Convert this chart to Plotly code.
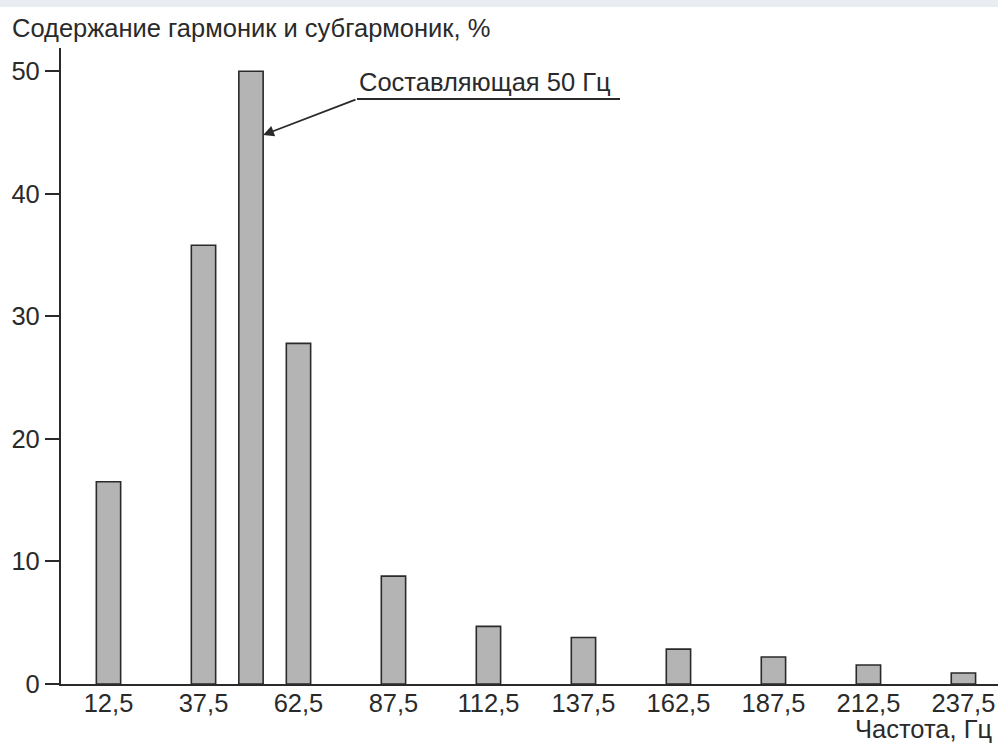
import plotly.graph_objects as go

# Data
freqs = [12.5, 37.5, 50, 62.5, 87.5, 112.5, 137.5, 162.5, 187.5, 212.5, 237.5]
content = [16.5, 35.8, 50.0, 27.8, 8.8, 4.7, 3.8, 2.85, 2.2, 1.55, 0.9]
xtick_vals = [12.5, 37.5, 62.5, 87.5, 112.5, 137.5, 162.5, 187.5, 212.5, 237.5]
xtick_text = ["12,5", "37,5", "62,5", "87,5", "112,5", "137,5", "162,5", "187,5", "212,5", "237,5"]
ytick_vals = [0, 10, 20, 30, 40, 50]
title_text = "Содержание гармоник и субгармоник, %"
xaxis_text = "Частота, Гц"
callout_text = "Составляющая 50 Гц"
callout_freq = 50

FONT = "Liberation Sans, Arial, sans-serif"
DARK = "#2a2a2a"
BAR_W = 6.4
FS = 25.5

fig = go.Figure()
fig.add_trace(go.Bar(
    x=freqs, y=content, width=BAR_W,
    marker=dict(color="#b4b4b4", line=dict(color=DARK, width=1.6)),
    hoverinfo="x+y",
))

W, H = 998, 744
ml, mr, mt, mb = 61, 0, 48, 60
pw, ph = W - ml - mr, H - mt - mb
xr = [0, 246.6]
yr = [0, 51.9]

def px2x(p):
    return xr[0] + (p - ml) / pw * (xr[1] - xr[0])

def py2y(p):
    return yr[0] + (mt + ph - p) / ph * (yr[1] - yr[0])

# callout geometry
tail_x, tail_y = px2x(357), py2y(99)
line_end_x = px2x(620)
head_y = py2y(135)

fig.update_layout(
    width=W, height=H,
    margin=dict(l=ml, r=mr, t=mt, b=mb),
    plot_bgcolor="white", paper_bgcolor="white",
    showlegend=False,
    font=dict(family=FONT, size=FS, color=DARK),
    xaxis=dict(
        range=xr, showgrid=False, zeroline=False,
        showline=True, linecolor=DARK, linewidth=2.2,
        tickmode="array", tickvals=xtick_vals, ticktext=xtick_text,
        ticks="", ticklabelstandoff=-5, tickfont=dict(size=FS, color=DARK),
    ),
    yaxis=dict(
        range=yr, showgrid=False, zeroline=False,
        showline=True, linecolor=DARK, linewidth=2.2,
        tickmode="array", tickvals=ytick_vals,
        ticks="outside", ticklen=14, tickwidth=1.8, tickcolor=DARK,
        tickfont=dict(size=FS, color=DARK),
    ),
    shapes=[
        dict(type="rect", xref="paper", yref="paper",
             x0=-ml / pw, x1=1.0, y0=1 + (mt - 7) / ph, y1=1 + mt / ph,
             fillcolor="#e9ecf0", line=dict(width=0), layer="below"),
        dict(type="line", xref="x", yref="y",
             x0=tail_x, x1=line_end_x, y0=tail_y, y1=tail_y,
             line=dict(color=DARK, width=1.8)),
    ],
    annotations=[
        dict(text=title_text, xref="paper", yref="paper",
             x=(10 - ml) / pw, y=1 + (mt - 12) / ph,
             xanchor="left", yanchor="top", showarrow=False,
             font=dict(size=FS, color=DARK)),
        dict(text=xaxis_text, xref="paper", yref="paper",
             x=(994 - ml) / pw, y=-(713 - (mt + ph)) / ph,
             xanchor="right", yanchor="top", showarrow=False,
             font=dict(size=FS, color=DARK)),
        dict(text=callout_text, xref="x", yref="y",
             x=tail_x, y=tail_y, xanchor="left", yanchor="bottom",
             yshift=1, showarrow=False, font=dict(size=FS, color=DARK)),
        dict(text="", xref="x", yref="y",
             x=callout_freq + BAR_W / 2, y=head_y,
             axref="x", ayref="y", ax=tail_x, ay=tail_y,
             showarrow=True, arrowhead=2, arrowsize=1.2, arrowwidth=1.8,
             arrowcolor=DARK),
    ],
)

fig.write_html("out.html",
               config={"displayModeBar": False},
               post_script="document.body.style.margin='0';document.body.style.overflow='hidden';")
